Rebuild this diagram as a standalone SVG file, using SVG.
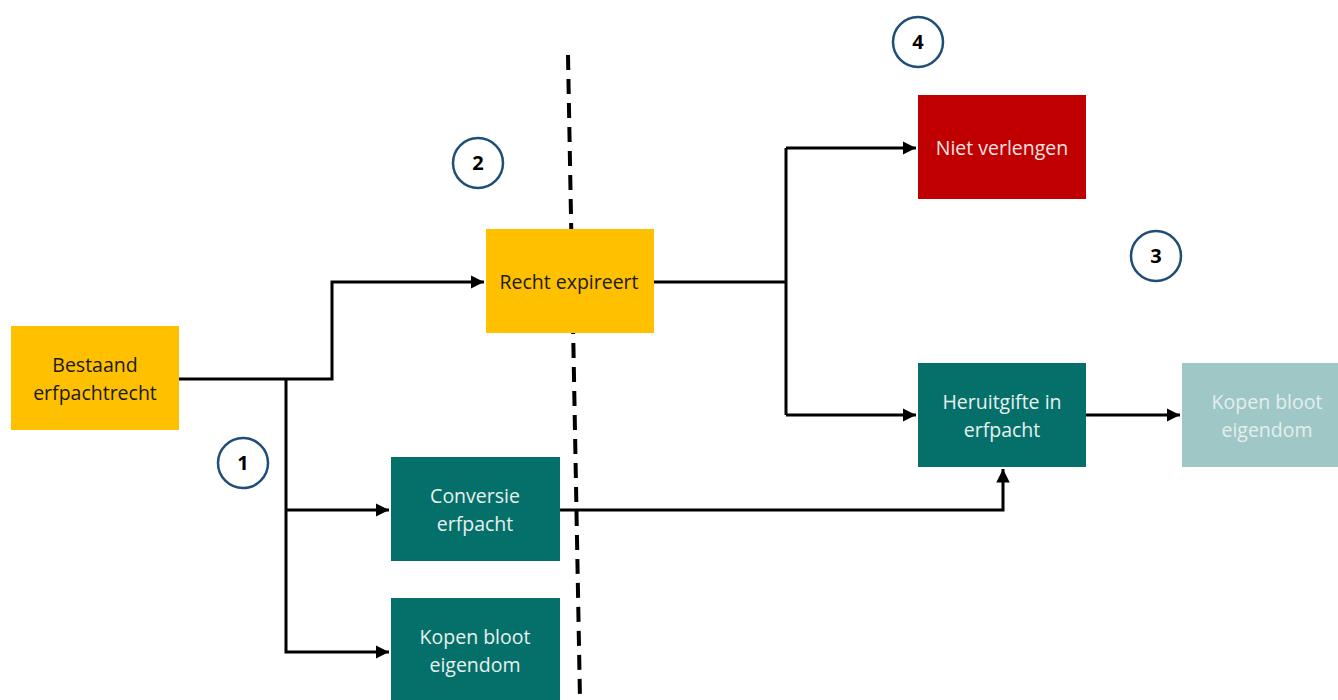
<svg xmlns="http://www.w3.org/2000/svg" width="1338" height="700" viewBox="0 0 1338 700">
<defs>
<marker id="arr" viewBox="0 0 10 10" refX="10" refY="5" markerWidth="4.5" markerHeight="4.5" markerUnits="strokeWidth" orient="auto"><path d="M0,0 L10,5 L0,10 z" fill="#000"/></marker>
<style>
.ln{fill:none;stroke:#000;stroke-width:3}
.t{font-family:"Open Sans","Liberation Sans",sans-serif;font-size:19.5px;text-anchor:middle}
.num{font-family:"Open Sans","Liberation Sans",sans-serif;font-size:20px;font-weight:bold;text-anchor:middle;fill:#000}
.c{fill:#fff;stroke:#1F4E79;stroke-width:2.5}
</style>
</defs>
<rect width="1338" height="700" fill="#fff"/>
<line x1="568" y1="55" x2="580" y2="700" stroke="#000" stroke-width="4" stroke-dasharray="15 9"/>
<g id="connectors">
<polyline class="ln" points="179,379 332,379 332,282 484,282" marker-end="url(#arr)"/>
<polyline class="ln" points="286,379 286,652 389,652" marker-end="url(#arr)"/>
<polyline class="ln" points="286,510 389,510" marker-end="url(#arr)"/>
<polyline class="ln" points="654,282 786,282"/>
<polyline class="ln" points="786,148 786,415"/>
<polyline class="ln" points="786,148 916,148" marker-end="url(#arr)"/>
<polyline class="ln" points="786,415 916,415" marker-end="url(#arr)"/>
<polyline class="ln" points="560,510 1003,510 1003,469" marker-end="url(#arr)"/>
<polyline class="ln" points="1086,415 1180,415" marker-end="url(#arr)"/>
</g>
<g id="bestaand"><rect x="11" y="326" width="168" height="104" fill="#FFC000"/><text class="t" x="95" y="372" fill="#1a1a1a">Bestaand</text><text class="t" x="95" y="400" fill="#1a1a1a">erfpachtrecht</text></g>
<g id="recht"><rect x="486" y="229" width="168" height="104" fill="#FFC000"/><text class="t" x="569" y="289" fill="#1a1a1a">Recht expireert</text></g>
<g id="conversie"><rect x="391" y="457" width="169" height="104" fill="#05706A"/><text class="t" x="475" y="503" fill="#e8f0ef">Conversie</text><text class="t" x="475" y="531" fill="#e8f0ef">erfpacht</text></g>
<g id="kopen1"><rect x="391" y="598" width="169" height="104" fill="#05706A"/><text class="t" x="475" y="644" fill="#e8f0ef">Kopen bloot</text><text class="t" x="475" y="672" fill="#e8f0ef">eigendom</text></g>
<g id="niet"><rect x="918" y="95" width="168" height="104" fill="#C00000"/><text class="t" x="1002" y="155" fill="#f3e3e3">Niet verlengen</text></g>
<g id="heruitgifte"><rect x="918" y="363" width="168" height="104" fill="#05706A"/><text class="t" x="1002" y="409" fill="#e8f0ef">Heruitgifte in</text><text class="t" x="1002" y="437" fill="#e8f0ef">erfpacht</text></g>
<g id="kopen2"><rect x="1182" y="363" width="156" height="104" fill="#9FC7C6"/><text class="t" x="1267" y="409" fill="#e4efee">Kopen bloot</text><text class="t" x="1267" y="437" fill="#e4efee">eigendom</text></g>
<g id="n1"><circle class="c" cx="243" cy="463" r="25"/><text class="num" x="243" y="470">1</text></g>
<g id="n2"><circle class="c" cx="478" cy="163" r="25"/><text class="num" x="478" y="170">2</text></g>
<g id="n3"><circle class="c" cx="1156" cy="256" r="25"/><text class="num" x="1156" y="263">3</text></g>
<g id="n4"><circle class="c" cx="918" cy="42" r="25"/><text class="num" x="918" y="49">4</text></g>
</svg>
